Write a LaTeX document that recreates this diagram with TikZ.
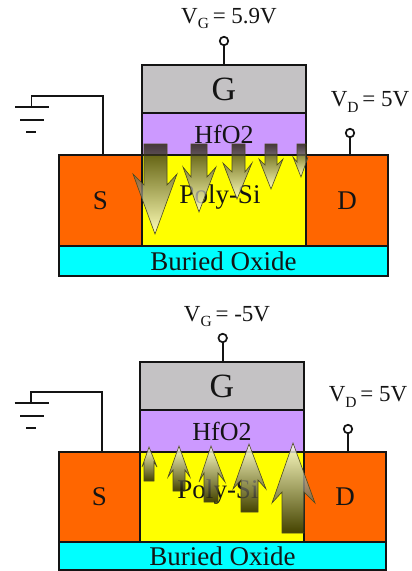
\documentclass[tikz,border=0pt]{standalone}
\usepackage{fontspec}
\setmainfont{Liberation Serif}
\definecolor{gatec}{HTML}{C4C2C4}
\definecolor{oxc}{HTML}{CC99FF}
\definecolor{sdc}{HTML}{FF6600}
\definecolor{polyc}{HTML}{FFFF00}
\definecolor{boxc}{HTML}{00FFFF}
\definecolor{linec}{HTML}{141414}
\definecolor{arrdark}{HTML}{1C1A00}
\definecolor{arrlight}{HTML}{FFFFF0}
\definecolor{arredge}{HTML}{4C4A20}
\newcommand{\vlabel}[2]{V\raisebox{-0.22em}{\fontsize{15.5}{16}\selectfont #1}\,= #2}
% sl sr be n wl wr wy tx ty
\newcommand{\barbpath}[9]{(#1,#3) -- (#2,#3) -- (#2,#4) -- (#6,#7) -- (#8,#9) -- (#5,#7) -- (#1,#4) -- cycle}
\newcommand{\barbdown}[9]{%
  \shade[top color=arrdark,bottom color=arrlight,opacity=0.76] \barbpath{#1}{#2}{#3}{#4}{#5}{#6}{#7}{#8}{#9};
  \draw[barbline] \barbpath{#1}{#2}{#3}{#4}{#5}{#6}{#7}{#8}{#9};}
\newcommand{\barbup}[9]{%
  \shade[top color=arrlight,bottom color=arrdark,opacity=0.82] \barbpath{#1}{#2}{#3}{#4}{#5}{#6}{#7}{#8}{#9};
  \draw[barbline] \barbpath{#1}{#2}{#3}{#4}{#5}{#6}{#7}{#8}{#9};}
\tikzset{
  layer/.style={draw=linec,line width=1.6pt,inner sep=0pt,outer sep=0pt,anchor=north west,text=linec},
  wire/.style={draw=linec,line width=1.6pt},
  terminal/.style={circle,draw=linec,line width=1.7pt,fill=white,minimum size=8.5pt,inner sep=0pt,outer sep=0pt},
  barbline/.style={draw=arredge,line width=0.6pt,line join=miter},
  bigtxt/.style={font=\fontsize{34}{36}\selectfont},
  midtxt/.style={font=\fontsize{27}{30}\selectfont},
  oxtxt/.style={font=\fontsize{26}{30}\selectfont},
  volt/.style={font=\fontsize{23}{26}\selectfont,text=linec,inner sep=0pt},
  polytxt/.style={font=\fontsize{27}{30}\selectfont,text=linec,inner sep=0pt},
}
\begin{document}
\begin{tikzpicture}[x=1pt,y=-1pt]
\useasboundingbox (0,0) rectangle (412,571);
% ---------- upper device
\node[layer,fill=gatec,minimum width=164pt,minimum height=48pt,bigtxt] (g1) at (142,65) {G};
\node[layer,fill=oxc,minimum width=164pt,minimum height=42pt,oxtxt] (ox1) at (142,113) {HfO2};
\node[layer,fill=polyc,minimum width=164pt,minimum height=91pt] (p1) at (142,155) {};
\node[layer,fill=sdc,minimum width=83pt,minimum height=91pt,midtxt] (s1) at (59,155) {S};
\node[layer,fill=sdc,minimum width=82pt,minimum height=91pt,midtxt] (d1) at (306,155) {D};
\node[layer,fill=boxc,minimum width=329pt,minimum height=30pt,midtxt] (b1) at (59,246) {Buried Oxide};
\node[polytxt] (pl1) at (220,197) {Poly-Si};
\node[volt] (vg1) at (229,18) {\vlabel{G}{5.9V}};
\node[volt] (vd1) at (370,102) {\vlabel{D}{5V}};
\node[terminal] (tg1) at (224,41) {};
\node[terminal] (td1) at (350,133) {};
\draw[wire] (tg1) -- (tg1 |- g1.north);
\draw[wire] (td1) -- (td1 |- d1.north);
\coordinate (st1) at (103,155);
\coordinate (gc1) at (31.5,96);
\coordinate (ga1) at (31.5,107);
\draw[wire] (st1) |- (gc1) -- (ga1);
\draw[wire,line width=2pt] (15,107) -- (49,107) (20,119.5) -- (43.5,119.5) (26,132) -- (36,132);
\barbdown{144}{167}{144}{185}{133}{177}{174}{155}{234}
\barbdown{191}{207}{144}{177}{183}{216}{167}{199}{212}
\barbdown{232}{245}{144}{172}{223}{252}{163}{237}{199}
\barbdown{265}{277}{144}{165}{259}{283}{159}{271}{189}
\barbdown{297}{306}{144}{162}{293}{308}{157}{301}{177}
% ---------- lower device
\node[layer,fill=gatec,minimum width=164pt,minimum height=48pt,bigtxt] (g2) at (140,362) {G};
\node[layer,fill=oxc,minimum width=164pt,minimum height=42pt,oxtxt] (ox2) at (140,410) {HfO2};
\node[layer,fill=polyc,minimum width=164pt,minimum height=90pt] (p2) at (140,452) {};
\node[layer,fill=sdc,minimum width=81pt,minimum height=90pt,midtxt] (s2) at (59,452) {S};
\node[layer,fill=sdc,minimum width=82pt,minimum height=90pt,midtxt] (d2) at (304,452) {D};
\node[layer,fill=boxc,minimum width=327pt,minimum height=28pt,midtxt] (b2) at (59,542) {Buried Oxide};
\node[polytxt] (pl2) at (218,492) {Poly-Si};
\node[volt] (vg2) at (227,317) {\vlabel{G}{-5V}};
\node[volt] (vd2) at (368,397) {\vlabel{D}{5V}};
\node[terminal] (tg2) at (222.7,338) {};
\node[terminal] (td2) at (348,429) {};
\draw[wire] (tg2) -- (tg2 |- g2.north);
\draw[wire] (td2) -- (td2 |- d2.north);
\coordinate (st2) at (102,452);
\coordinate (gc2) at (31,392);
\coordinate (ga2) at (31,403);
\draw[wire] (st2) |- (gc2) -- (ga2);
\draw[wire,line width=2pt] (14.5,403) -- (49,403) (20,416) -- (43.5,416) (26,428) -- (36,428);
\barbup{144}{154}{481}{462}{142}{157}{467}{149}{447}
\barbup{173}{185}{491}{470}{168}{190}{477}{179}{446}
\barbup{204}{218}{502}{473}{199}{225}{482}{211}{446}
\barbup{241}{258}{512}{480}{233}{266}{489}{249}{444}
\barbup{282}{304}{533}{492}{272}{315}{503}{293}{443}
\end{tikzpicture}
\end{document}
